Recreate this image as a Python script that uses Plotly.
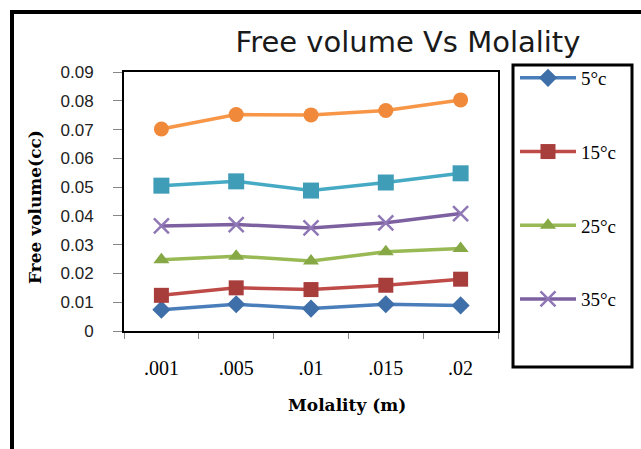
import plotly.graph_objects as go

categories = [".001", ".005", ".01", ".015", ".02"]
series_names = ["5°c", "15°c", "25°c", "35°c", "45°c", "55°c"]
v_5 = [0.0074, 0.0093, 0.0078, 0.0093, 0.0089]
v_15 = [0.0124, 0.0150, 0.0144, 0.0159, 0.0180]
v_25 = [0.0248, 0.0260, 0.0243, 0.0275, 0.0287]
v_35 = [0.0365, 0.0370, 0.0358, 0.0376, 0.0408]
v_45 = [0.0505, 0.0520, 0.0488, 0.0516, 0.0548]
v_55 = [0.0702, 0.0752, 0.0751, 0.0766, 0.0803]
y_ticks = [0, 0.01, 0.02, 0.03, 0.04, 0.05, 0.06, 0.07, 0.08, 0.09]

series = [v_5, v_15, v_25, v_35, v_45, v_55]
colors = ["#4A7EBB", "#BE4B48", "#98B954", "#7D60A0", "#46AAC5", "#F79646"]
mcolors = ["#3F6FA8", "#A83E3B", "#86A845", "#7D60A0", "#3F9DB8", "#F0893A"]
symbols = ["diamond", "square", "triangle-up", "x-thin", "square", "circle"]
sizes = [14, 15, 14, 15, 16, 15]

fig = go.Figure()
for i, (name, vals) in enumerate(zip(series_names, series)):
    marker = dict(symbol=symbols[i], size=sizes[i], color=mcolors[i])
    if symbols[i] == "x-thin":
        marker["line"] = dict(width=2.5, color="#8F78B5")
    fig.add_trace(go.Scatter(
        x=categories, y=vals, name=name, mode="lines+markers",
        line=dict(color=colors[i], width=3.5),
        marker=marker,
        legendgroup=name,
        showlegend=i < 4,
    ))

L, R, T, B = 124, 498, 72, 331
W, H = 641, 449

def px_x(p):
    return (p - L) / (R - L)

def px_y(p):
    return (B - p) / (B - T)

fig.update_layout(
    width=W, height=H,
    margin=dict(l=L, r=W - R, t=T, b=H - B, pad=0),
    paper_bgcolor="white", plot_bgcolor="white",
    showlegend=True,
    legend=dict(
        x=px_x(515), y=px_y(59), xanchor="left", yanchor="top",
        font=dict(family="Liberation Serif", size=19, color="black"),
        tracegroupgap=46, itemwidth=56, maxheight=440,
        bgcolor="rgba(0,0,0,0)", borderwidth=0,
    ),
    title=dict(
        text="Free volume Vs Molality", xref="container", x=408 / W,
        xanchor="center", yref="container", y=1 - 42 / H, yanchor="middle",
        font=dict(family="DejaVu Sans", size=29, color="#1a1a1a"),
    ),
    xaxis=dict(
        type="category", range=[-0.5, 4.5], tickson="boundaries",
        ticks="outside", ticklen=6, tickcolor="#888888", tickwidth=1,
        showline=True, linecolor="black", linewidth=2, mirror=True,
        showgrid=False, zeroline=False,
        tickfont=dict(family="Liberation Serif", size=20, color="black"),
        ticklabelstandoff=18,
    ),
    yaxis=dict(
        range=[0, 0.09], tickvals=y_ticks,
        ticktext=[("%g" % v) for v in y_ticks],
        ticks="outside", ticklen=9, tickcolor="#888888", tickwidth=1,
        showline=True, linecolor="black", linewidth=2, mirror=True,
        showgrid=False, zeroline=False,
        tickfont=dict(family="Liberation Sans", size=17, color="#222222"),
        ticklabelstandoff=16,
    ),
    annotations=[
        dict(text="<b>Molality (m)</b>", xref="paper", yref="paper",
             x=px_x(347), y=px_y(405), xanchor="center", yanchor="middle",
             showarrow=False,
             font=dict(family="DejaVu Serif", size=17, color="black")),
        dict(text="<b>Free volume(cc)</b>", xref="paper", yref="paper",
             x=px_x(35), y=px_y(207), xanchor="center", yanchor="middle",
             textangle=-90, showarrow=False,
             font=dict(family="DejaVu Serif", size=17, color="black")),
    ],
    shapes=[
        dict(type="rect", xref="paper", yref="paper",
             x0=px_x(12), x1=px_x(700), y0=px_y(520), y1=px_y(12),
             line=dict(color="black", width=4), fillcolor="rgba(0,0,0,0)",
             layer="above"),
        dict(type="rect", xref="paper", yref="paper",
             x0=px_x(513), x1=px_x(632), y0=px_y(367), y1=px_y(65),
             line=dict(color="black", width=3), fillcolor="rgba(0,0,0,0)",
             layer="above"),
    ],
)

fig.write_html("out.html")
